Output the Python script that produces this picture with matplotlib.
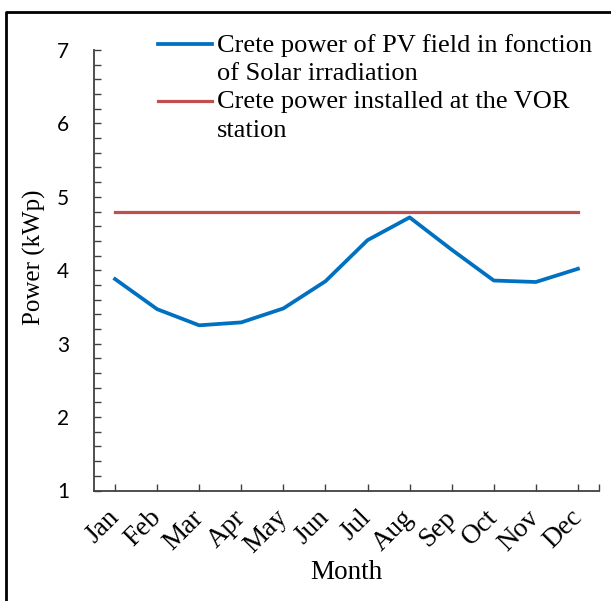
import matplotlib
matplotlib.use('Agg')
import matplotlib.pyplot as plt
from matplotlib.lines import Line2D
from matplotlib.ticker import MultipleLocator, FixedLocator

months = ['Jan', 'Feb', 'Mar', 'Apr', 'May', 'Jun', 'Jul', 'Aug', 'Sep', 'Oct', 'Nov', 'Dec']
pv_power = [3.88, 3.47, 3.25, 3.29, 3.48, 3.85, 4.41, 4.72, 4.28, 3.86, 3.84, 4.02]
installed_power = [4.8] * 12
legend_labels = ["Crete power of PV field in fonction\nof Solar irradiation",
                 "Crete power installed at the VOR\nstation"]
y_label = "Power (kWp)"
x_label = "Month"

W, H = 611, 601
SERIF = 'Liberation Serif'
BLUE = '#0070C0'
RED = '#C0504D'
AXC = '#404040'

def fx(px):
    return px / W

def fy(py):
    return 1 - py / H

fig = plt.figure(figsize=(W / 100, H / 100), dpi=100)
ax = fig.add_axes([fx(94), fy(490.5), (599 - 94) / W, (490.5 - 50) / H])

x = list(range(len(months)))
ax.plot(x, pv_power, color=BLUE, lw=2.7, solid_joinstyle='round')
ax.plot(x, installed_power, color=RED, lw=2.3)

ax.set_xlim(-0.5, 11.5)
ax.set_ylim(1, 7)

for s in ['top', 'right']:
    ax.spines[s].set_visible(False)
for s in ['left', 'bottom']:
    ax.spines[s].set_color(AXC)
    ax.spines[s].set_linewidth(1.3)

ax.yaxis.set_major_locator(MultipleLocator(1))
ax.yaxis.set_minor_locator(MultipleLocator(0.2))
ax.tick_params(axis='y', which='both', direction='in', length=5, width=1, color=AXC)
ax.tick_params(axis='y', which='major', pad=18, labelsize=15)
for lab in ax.get_yticklabels():
    lab.set_family('Lato')

ax.xaxis.set_major_locator(FixedLocator(x))
ax.xaxis.set_minor_locator(FixedLocator([11.5]))
ax.set_xticklabels(months, rotation=45, ha='right', va='center',
                   rotation_mode='anchor', family=SERIF, fontsize=19.5)
ax.tick_params(axis='x', which='both', direction='in', length=5, width=1, color=AXC, pad=17)

ax.set_ylabel(y_label, family=SERIF, fontsize=18)
ax.yaxis.set_label_coords(-0.095, 0.53)
ax.set_xlabel(x_label, family=SERIF, fontsize=19.5)
ax.xaxis.set_label_coords(0.5, -0.157)

# legend (manual, handle aligned with the first text line of each entry)
handle_y = [44, 100.7]
text_y = [51.7, 108.3]
line_step = 28.4
colors = [BLUE, RED]
lws = [2.7, 2.3]
for lab, hy, ty, c, lw in zip(legend_labels, handle_y, text_y, colors, lws):
    fig.add_artist(Line2D([fx(158), fx(212)], [fy(hy), fy(hy)], transform=fig.transFigure,
                          color=c, lw=lw))
    for i, line in enumerate(lab.split('\n')):
        fig.text(fx(217), fy(ty + i * line_step), line, family=SERIF, fontsize=19,
                 va='baseline', ha='left')

# figure frame
fig.add_artist(Line2D([fx(6), fx(6), fx(611)], [fy(601), fy(12), fy(12)],
                      transform=fig.transFigure, color='black', lw=2))

fig.savefig('out.png', dpi=100)
